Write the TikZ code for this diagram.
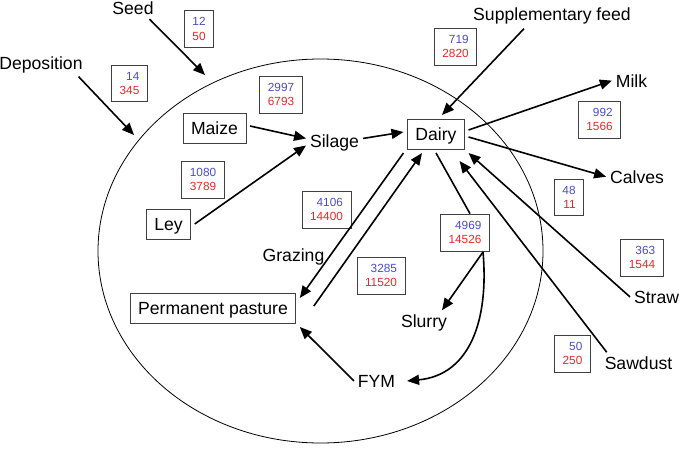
\documentclass[tikz,border=0pt]{standalone}
\usepackage{fontspec}
\setmainfont{Liberation Sans}
\usetikzlibrary{arrows.meta}
\definecolor{numblue}{RGB}{75,75,200}
\definecolor{numred}{RGB}{232,38,42}
\newcommand\fluxval[2]{\textcolor{numblue}{#1}\\\textcolor{numred}{#2}}

\begin{document}
\begin{tikzpicture}[x=1pt,y=-1pt,
    lbl/.style={font=\fontsize{17.6}{20}\selectfont,anchor=base,inner sep=2pt,outer sep=2pt},
    part/.style={draw=black!75,line width=0.8pt,font=\fontsize{17.6}{20}\selectfont,
        text height=12.6pt,text depth=0pt,inner xsep=8pt,inner ysep=8.7pt,outer sep=4pt},
    flux/.style={draw=black!75,line width=0.8pt,font=\fontsize{11.8}{14.5}\selectfont,
        align=right,inner xsep=8pt,inner ysep=7pt},
    flow/.style={line width=1.6pt,-{Triangle[length=12pt,width=10pt]}}]
    \useasboundingbox (0,0) rectangle (700,452);
    % farm boundary
    \draw[line width=0.8pt] (320.5,251) ellipse [x radius=222.5pt,y radius=192pt];
    % labels
    \node[lbl] (Seed) at (133,15) {Seed};
    \node[lbl] (Dep) at (41,69) {Deposition};
    \node[lbl] (Supp) at (552,21) {Supplementary feed};
    \node[lbl] (Milk) at (631.5,87) {Milk};
    \node[lbl] (Calves) at (637,183) {Calves};
    \node[lbl] (Straw) at (656.5,303) {Straw};
    \node[lbl] (Sawdust) at (638.5,369) {Sawdust};
    \node[lbl] (Silage) at (334.5,147) {Silage};
    \node[lbl] (Slurry) at (424,327) {Slurry};
    \node[lbl] (FYM) at (376.5,387) {FYM};
    \node[lbl] (Grazing) at (293.5,261) {Grazing};
    % boxes
    \node[part] (Maize) at (214.5,128) {Maize};
    \node[part] (Ley) at (168.5,224) {Ley};
    \node[part] (Dairy) at (436,134) {Dairy};
    \node[part] (Pasture) at (213,308) {Permanent pasture};
    % flux values
    \node[flux] (FSeed) at (199,29) {\fluxval{12}{50}};
    \node[flux] (FDep) at (129.5,83.5) {\fluxval{14}{345}};
    \node[flux] (FMaize) at (281,94.5) {\fluxval{2997}{6793}};
    \node[flux] (FLey) at (203,179.5) {\fluxval{1080}{3789}};
    \node[flux] (FSupp) at (455.5,46.5) {\fluxval{719}{2820}};
    \node[flux] (FMilk) at (599.5,119.5) {\fluxval{992}{1566}};
    \node[flux] (FCalves) at (569,197.5) {\fluxval{48}{11}};
    \node[flux] (FStraw) at (642,257.5) {\fluxval{363}{1544}};
    \node[flux] (FSawdust) at (572.5,353.5) {\fluxval{50}{250}};
    \node[flux] (FManure) at (465,232.5) {\fluxval{4969}{14526}};
    \node[flux] (FGrazing) at (326.5,209.5) {\fluxval{4106}{14400}};
    \node[flux] (FReturn) at (381,275.5) {\fluxval{3285}{11520}};
    \coordinate (SeedIn) at (205,75);
    \coordinate (DepIn) at (134,135);
    \coordinate (Split) at (483,252);
    % flows
    \draw[flow] ([xshift=-8pt]Seed.south east) -- (SeedIn);
    \draw[flow] ([xshift=-8pt]Dep.south east) -- (DepIn);
    \draw[flow] ([xshift=-28pt]Supp.south) -- ([xshift=6pt]Dairy.north);
    \draw[flow] ([yshift=2pt]Maize.east) -- ([yshift=4pt]Silage.west);
    \draw[flow] (Ley.east) -- ([yshift=-3pt]Silage.west);
    \draw[flow] ([yshift=4pt]Silage.east) -- ([yshift=2pt]Dairy.west);
    \draw[flow] ([yshift=4pt]Dairy.east) -- (Milk.west);
    \draw[flow] ([yshift=-3pt]Dairy.east) -- (Calves.west);
    \draw[flow] (Straw.west) -- (Dairy.south east);
    \draw[flow] ([xshift=6pt]Sawdust.north west) -- ([xshift=-9pt,yshift=-8pt]Dairy.south east);
    \draw[flow] (Dairy.south west) -- ([yshift=10pt]Pasture.east);
    \draw[flow] ([xshift=14pt,yshift=2pt]Pasture.east) -- ([xshift=-14pt]Dairy.south);
    \draw[line width=1.6pt] (Dairy.south) -- ([xshift=5pt]FManure.north);
    \draw[flow] (Split) -- ([xshift=18pt]Slurry.north);
    \draw[flow] (Split) .. controls (489,320) and (470,375) .. ([xshift=8pt]FYM.east);
    \draw[flow] (FYM.west) -- (Pasture.south east);
\end{tikzpicture}
\end{document}
